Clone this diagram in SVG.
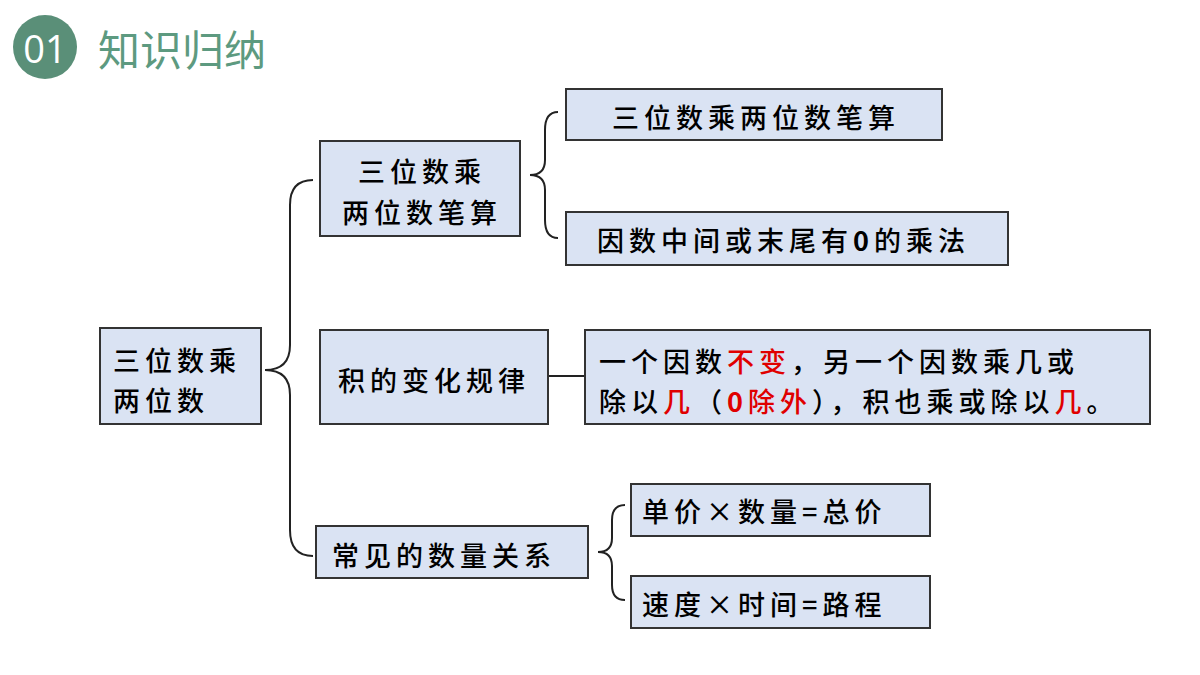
<svg xmlns="http://www.w3.org/2000/svg" width="1200" height="675" viewBox="0 0 1200 675">
<style>
.b{fill:#dae3f3;stroke:#333;stroke-width:2}
.t{font-family:"Noto Sans CJK SC",sans-serif;font-size:27px;font-weight:500;letter-spacing:5px;fill:#000;dominant-baseline:central}
.r{fill:#e00000}
.c{fill:none;stroke:#222;stroke-width:2}
</style>
<rect width="1200" height="675" fill="#fff"/>
<g id="title">
<circle cx="45" cy="47" r="32" fill="#5a8f78"/>
<text x="45" y="48" text-anchor="middle" dominant-baseline="central" font-family="'Open Sans',sans-serif" font-size="38" fill="#fff">01</text>
<text x="98" y="47" dominant-baseline="central" font-family="'Noto Sans CJK SC',sans-serif" font-size="42" fill="#5d9a80">知识归纳</text>
</g>
<g id="connectors">
<path class="c" d="M313,180 Q290,180 290,205 V345 Q290,370 265,370 Q290,370 290,395 V530 Q290,556 313,556"/>
<path class="c" d="M558,112 Q545,112 545,130 V160 Q545,175 530,175 Q545,175 545,190 V220 Q545,238 558,238"/>
<path class="c" d="M548,376 H585"/>
<path class="c" d="M625,505 Q612,505 612,520 V538 Q612,552 598,552 Q612,552 612,566 V585 Q612,600 625,600"/>
</g>
<g id="root"><rect class="b" x="100" y="328" width="161" height="96"/>
<text class="t" x="113" y="359">三位数乘</text><text class="t" x="113" y="399">两位数</text></g>
<g id="a"><rect class="b" x="320" y="141" width="200" height="95"/>
<text class="t" x="422" y="170" text-anchor="middle">三位数乘</text><text class="t" x="422" y="211" text-anchor="middle">两位数笔算</text></g>
<g id="a1"><rect class="b" x="566" y="89" width="376" height="51"/>
<text class="t" x="756" y="116" text-anchor="middle">三位数乘两位数笔算</text></g>
<g id="a2"><rect class="b" x="566" y="212" width="442" height="53"/>
<text class="t" x="597" y="239">因数中间或末尾有<tspan font-weight="bold">0</tspan>的乘法</text></g>
<g id="b"><rect class="b" x="320" y="330" width="228" height="94"/>
<text class="t" x="434" y="379" text-anchor="middle">积的变化规律</text></g>
<g id="c"><rect class="b" x="585" y="330" width="565" height="94"/>
<text class="t" x="599" y="360">一个因数<tspan class="r">不变</tspan>，另一个因数乘几或</text>
<text class="t" x="599" y="400">除以<tspan class="r">几</tspan>（<tspan class="r"><tspan font-weight="bold">0</tspan>除外</tspan>），积也乘或除以<tspan class="r">几</tspan>。</text></g>
<g id="d"><rect class="b" x="316" y="526" width="272" height="52"/>
<text class="t" x="332" y="554">常见的数量关系</text></g>
<g id="d1"><rect class="b" x="631" y="484" width="299" height="52"/>
<text class="t" x="642" y="510">单价×数量=总价</text></g>
<g id="d2"><rect class="b" x="631" y="576" width="299" height="52"/>
<text class="t" x="642" y="603">速度×时间=路程</text></g>
</svg>
